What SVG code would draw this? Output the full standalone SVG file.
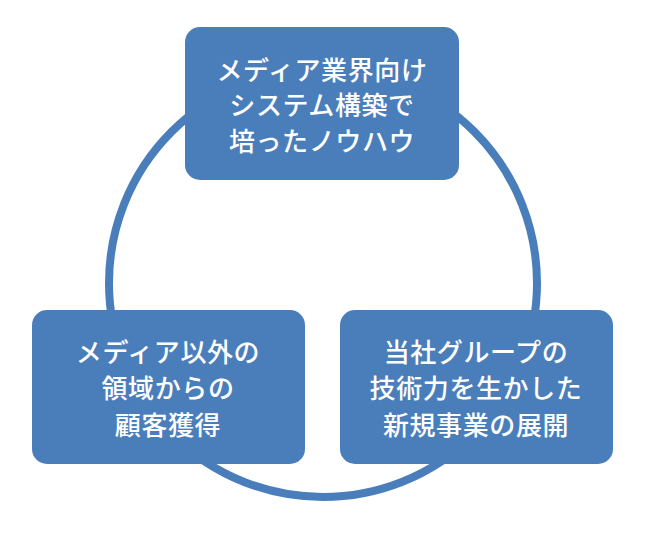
<svg xmlns="http://www.w3.org/2000/svg" width="646" height="536" viewBox="0 0 646 536">
<style>
.box{fill:#4A7EBB;}
.t{fill:#ffffff;font-family:"Noto Sans CJK JP","Noto Sans CJK SC",sans-serif;font-size:26px;font-weight:500;letter-spacing:0.6px;text-anchor:middle;}
.ring{fill:none;stroke:#4A7EBB;stroke-width:8;}
</style>
<rect width="646" height="536" fill="#ffffff"/>
<g id="connectors">
<circle class="ring" cx="323" cy="283" r="214"/>
</g>
<g id="node-top">
<rect class="box" x="185" y="27" width="274" height="153" rx="15"/>
<text class="t" x="322" y="80">メディア業界向け</text>
<text class="t" x="322" y="115">システム構築で</text>
<text class="t" x="322" y="151">培ったノウハウ</text>
</g>
<g id="node-left">
<rect class="box" x="32" y="310" width="273" height="154" rx="15"/>
<text class="t" x="168" y="362">メディア以外の</text>
<text class="t" x="168" y="398">領域からの</text>
<text class="t" x="168" y="435">顧客獲得</text>
</g>
<g id="node-right">
<rect class="box" x="340" y="310" width="273" height="154" rx="15"/>
<text class="t" x="476" y="362">当社グループの</text>
<text class="t" x="476" y="398">技術力を生かした</text>
<text class="t" x="476" y="435">新規事業の展開</text>
</g>
</svg>
